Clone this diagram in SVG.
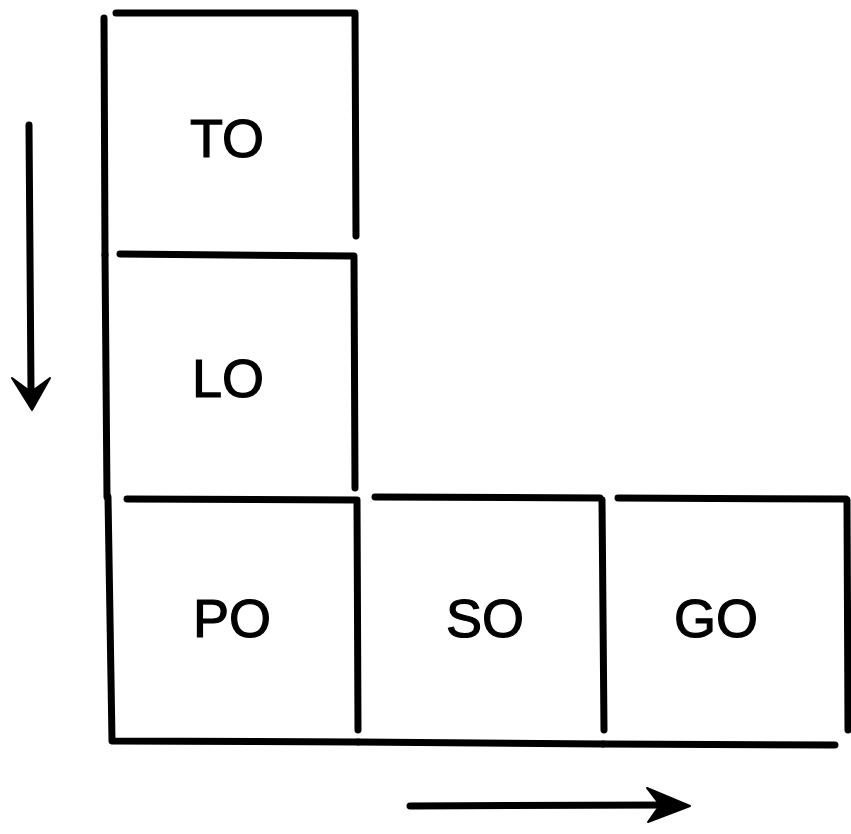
<svg xmlns="http://www.w3.org/2000/svg" width="851" height="834" viewBox="0 0 851 834">
<style>
.edge{stroke:#000;stroke-width:7;stroke-linecap:round;fill:none}
.lbl{font-family:"Liberation Sans",Arial,sans-serif;font-size:54px;fill:#000;stroke:#000;stroke-width:1.2;text-anchor:middle}
.arr{stroke:#000;stroke-width:7;stroke-linecap:round;fill:none}
.head{fill:#000;stroke:#000;stroke-width:2;stroke-linejoin:round}
</style>
<rect width="851" height="834" fill="#fff"/>
<g id="TO">
<path class="edge" d="M116,13 L355,13 M355,13 L356,236 M104,18 L105,255"/>
<text class="lbl" x="227" y="157">TO</text>
</g>
<g id="LO">
<path class="edge" d="M120,254 L354,256 M354,258 L355,488 M105,255 L107,497"/>
<text class="lbl" x="228" y="397">LO</text>
</g>
<g id="PO">
<path class="edge" d="M127,499 L357,500 M357,500 L358,730 M108,497 L112,740 M112,741 L358,742"/>
<text class="lbl" x="232" y="637">PO</text>
</g>
<g id="SO">
<path class="edge" d="M375,497 L600,498 M602,500 L604,730 M358,742 L603,744"/>
<text class="lbl" x="485" y="637">SO</text>
</g>
<g id="GO">
<path class="edge" d="M618,498 L846,499 M847,500 L848,730 M603,744 L835,745"/>
<text class="lbl" x="716" y="637">GO</text>
</g>
<g id="connectors">
<path class="arr" d="M29,125 L31,390"/>
<path class="head" d="M12,378 L32,410 L50,378 L31,392 Z"/>
<path class="arr" d="M410,806 L670,805"/>
<path class="head" d="M647,788 L690,806 L648,822 L660,805 Z"/>
</g>
</svg>
